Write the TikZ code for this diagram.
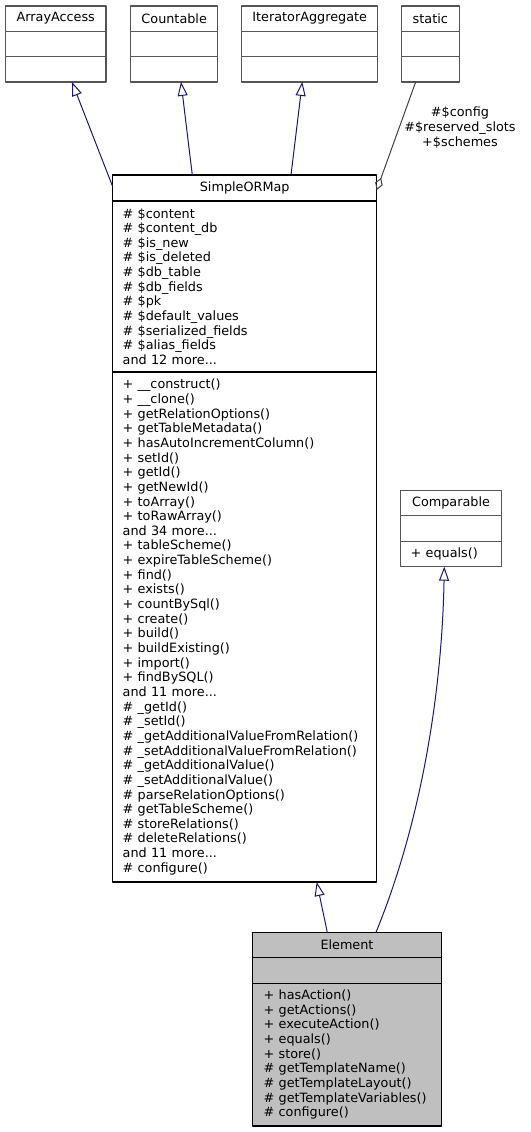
\documentclass[tikz,border=0pt]{standalone}
\usepackage{fontspec}
\setmainfont{DejaVu Sans}
\usetikzlibrary{arrows.meta,positioning}
\definecolor{edgeblue}{HTML}{191970}
\definecolor{boxgrey}{HTML}{555555}
\definecolor{usegrey}{HTML}{404040}
\definecolor{curfill}{HTML}{BFBFBF}
\newcommand{\umlfont}{\fontsize{12.8}{14.65}\selectfont}
\tikzset{
    cls/.style={
        draw=boxgrey, line width=1.2pt, inner sep=0pt, outer sep=0pt,
        font=\umlfont
    },
    titlebox/.style={cls, anchor=north, minimum height=25.3pt},
    partbox/.style={cls, below=0pt of #1, minimum height=25.3pt},
    listbox/.style={cls, below=0pt of #1, align=left, inner xsep=10pt},
    inherit/.style={
        draw=edgeblue, line width=1pt,
        -{Triangle[open, length=14pt, width=10pt]}
    },
    agg/.style={
        draw=usegrey, line width=1pt,
        {Diamond[open, length=13pt, width=8pt]}-
    }
}

\begin{document}
\begin{tikzpicture}[x=1pt, y=-1pt, line cap=round, line join=round]

\useasboundingbox (0,0) rectangle (530,1132);

% interfaces on top
\node[titlebox, minimum width=100.5pt] (aa) at (55.75,6) {ArrayAccess};
\node[partbox=aa, minimum width=100.5pt] (aa2) {};
\node[partbox=aa2, minimum width=100.5pt] (aa3) {};

\node[titlebox, minimum width=87pt] (cnt) at (174.2,6) {Countable};
\node[partbox=cnt, minimum width=87pt] (cnt2) {};
\node[partbox=cnt2, minimum width=87pt] (cnt3) {};

\node[titlebox, minimum width=136pt] (itr) at (309.7,6) {IteratorAggregate};
\node[partbox=itr, minimum width=136pt] (itr2) {};
\node[partbox=itr2, minimum width=136pt] (itr3) {};

\node[titlebox, minimum width=58pt] (st) at (430.3,6) {static};
\node[partbox=st, minimum width=58pt] (st2) {};
\node[partbox=st2, minimum width=58pt] (st3) {};

% SimpleORMap
\node[titlebox, draw=black, minimum width=264pt, minimum height=26pt] (orm) at (244.7,175) {SimpleORMap};
\node[listbox=orm, draw=black, text width=244pt, minimum height=171pt] (ormattr) {%
\# \$content\\
\# \$content\_db\\
\# \$is\_new\\
\# \$is\_deleted\\
\# \$db\_table\\
\# \$db\_fields\\
\# \$pk\\
\# \$default\_values\\
\# \$serialized\_fields\\
\# \$alias\_fields\\
and 12 more...};
\node[listbox=ormattr, draw=black, text width=244pt, minimum height=510pt] (ormmeth) {%
+ \_\_construct()\\
+ \_\_clone()\\
+ getRelationOptions()\\
+ getTableMetadata()\\
+ hasAutoIncrementColumn()\\
+ setId()\\
+ getId()\\
+ getNewId()\\
+ toArray()\\
+ toRawArray()\\
and 34 more...\\
+ tableScheme()\\
+ expireTableScheme()\\
+ find()\\
+ exists()\\
+ countBySql()\\
+ create()\\
+ build()\\
+ buildExisting()\\
+ import()\\
+ findBySQL()\\
and 11 more...\\
\# \_getId()\\
\# \_setId()\\
\# \_getAdditionalValueFromRelation()\\
\# \_setAdditionalValueFromRelation()\\
\# \_getAdditionalValue()\\
\# \_setAdditionalValue()\\
\# parseRelationOptions()\\
\# getTableScheme()\\
\# storeRelations()\\
\# deleteRelations()\\
and 11 more...\\
\# configure()};

% Comparable
\node[titlebox, minimum width=100.6pt, minimum height=25pt] (cmp) at (451,490.7) {Comparable};
\node[partbox=cmp, minimum width=100.6pt, minimum height=25.6pt] (cmp2) {};
\node[listbox=cmp2, text width=80.6pt, minimum height=25.4pt] (cmp3) {+ equals()};

% Element
\node[titlebox, draw=black, fill=curfill, minimum width=188.6pt, minimum height=25pt] (elem) at (347,932.3) {Element};
\node[partbox=elem, draw=black, fill=curfill, minimum width=188.6pt, minimum height=26pt] (elem2) {};
\node[listbox=elem2, draw=black, fill=curfill, text width=166.6pt, inner xsep=11pt, minimum height=142.7pt] (elem3) {%
+ hasAction()\\
+ getActions()\\
+ executeAction()\\
+ equals()\\
+ store()\\
\# getTemplateName()\\
\# getTemplateLayout()\\
\# getTemplateVariables()\\
\# configure()};

% inheritance
\draw[inherit] ([yshift=-11.7pt]orm.north west) -- ([xshift=16.2pt]aa3.south);
\draw[inherit] ([xshift=-52.4pt]orm.north) -- ([xshift=6.8pt]cnt3.south);
\draw[inherit] ([xshift=46.3pt]orm.north) -- ([xshift=-7.4pt]itr3.south);
\draw[inherit] ([xshift=-19.7pt]elem.north) -- ([xshift=72pt]ormmeth.south);
\draw[inherit] ([xshift=29pt]elem.north) .. controls (422,820) and (442,690) .. ([xshift=-6.7pt]cmp3.south);

% static members
\draw[agg] ([yshift=-15pt]orm.north east) -- ([xshift=-14.6pt]st3.south);
\node[font=\umlfont, align=center, inner sep=0pt] (statlbl) at (460,127.7) {\#\$config\\\#\$reserved\_slots\\+\$schemes};

\end{tikzpicture}
\end{document}
